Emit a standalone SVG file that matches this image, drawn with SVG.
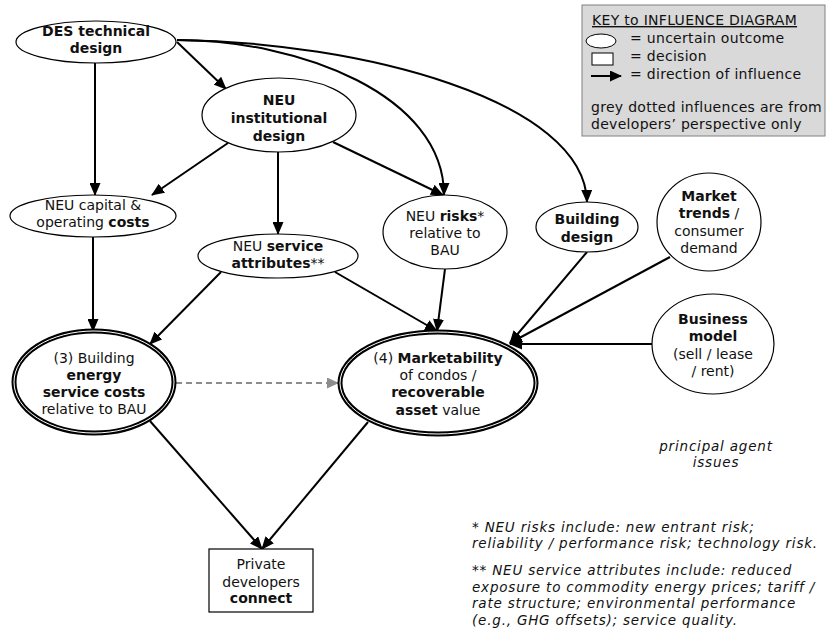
<svg xmlns="http://www.w3.org/2000/svg" width="827" height="631" viewBox="0 0 827 631">
<defs>
<marker id="ah" markerUnits="userSpaceOnUse" markerWidth="13" markerHeight="11" refX="12" refY="5.5" orient="auto"><path d="M0,0 L13,5.5 L0,11 z" fill="#000"/></marker>
<marker id="ahg" markerUnits="userSpaceOnUse" markerWidth="12" markerHeight="11" refX="11" refY="5.5" orient="auto"><path d="M0,0 L12,5.5 L0,11 z" fill="#8c8c8c"/></marker>
<marker id="ahk" markerUnits="userSpaceOnUse" markerWidth="12" markerHeight="11" refX="11" refY="5.5" orient="auto"><path d="M0,0 L12,5.5 L0,11 z" fill="#000"/></marker>
</defs>
<style>
text{font-family:"DejaVu Sans",Verdana,sans-serif;font-size:14px;fill:#111}
.k{font-size:14px;letter-spacing:0.3px}
.f{font-size:13.5px;letter-spacing:0.8px}
.c{text-anchor:middle}
.b{font-weight:bold}
.i{font-style:italic}
.n{fill:#fff;stroke:#000;stroke-width:1.2}
.tk{fill:#fff;stroke:#000;stroke-width:5}
.tw{fill:none;stroke:#fff;stroke-width:1}
.e{fill:none;stroke:#000;stroke-width:2;marker-end:url(#ah)}
.d{fill:none;stroke:#8c8c8c;stroke-width:2.2;stroke-dasharray:6,4;marker-end:url(#ahg)}
</style>
<rect width="827" height="631" fill="#fff"/>

<g id="key">
<rect x="582" y="5" width="243" height="131" fill="#d9d9d9" stroke="#808080" stroke-width="1"/>
<text class="k" x="592" y="25" text-decoration="underline">KEY to INFLUENCE DIAGRAM</text>
<ellipse cx="601" cy="41" rx="15" ry="7" fill="#fff" stroke="#000" stroke-width="1"/>
<text class="k" x="630" y="43">= uncertain outcome</text>
<rect x="592" y="53" width="21" height="12" fill="#fff" stroke="#000" stroke-width="1"/>
<text class="k" x="630" y="61">= decision</text>
<line x1="591" y1="76" x2="621" y2="76" stroke="#000" stroke-width="2" marker-end="url(#ahk)"/>
<text class="k" x="630" y="79">= direction of influence</text>
<text class="k" x="591" y="112">grey dotted influences are from</text>
<text class="k" x="591" y="129">developers’ perspective only</text>
</g>

<g id="connectors">
<line class="e" x1="177" y1="42" x2="226" y2="89"/>
<line class="e" x1="95" y1="63" x2="95" y2="195"/>
<path class="e" d="M177,40 C300,40 444,95 444,195"/>
<path class="e" d="M177,40 C360,42 585,100 587,202"/>
<line class="e" x1="228" y1="143" x2="152" y2="195"/>
<line class="e" x1="278" y1="152" x2="278" y2="234"/>
<line class="e" x1="333" y1="142" x2="443" y2="195"/>
<line class="e" x1="93" y1="237" x2="93" y2="331"/>
<line class="e" x1="221" y1="272" x2="150" y2="344"/>
<line class="e" x1="335" y1="272" x2="437" y2="331"/>
<line class="e" x1="445" y1="269" x2="437" y2="331"/>
<line class="e" x1="587" y1="252" x2="510" y2="343"/>
<line class="e" x1="670" y1="257" x2="510" y2="343"/>
<line class="e" x1="652" y1="344" x2="510" y2="344"/>
<line class="d" x1="176" y1="383" x2="338" y2="383"/>
<line class="e" x1="150" y1="421" x2="262" y2="549"/>
<line class="e" x1="368" y1="422" x2="262" y2="549"/>
</g>

<g id="des">
<ellipse class="n" cx="96" cy="42" rx="80" ry="21"/>
<text class="c b" x="96" y="36">DES technical</text>
<text class="c b" x="96" y="53">design</text>
</g>
<g id="inst">
<ellipse class="n" cx="279" cy="115" rx="77" ry="37"/>
<text class="c b" x="279" y="105">NEU</text>
<text class="c b" x="279" y="123">institutional</text>
<text class="c b" x="279" y="141">design</text>
</g>
<g id="cap">
<ellipse class="n" cx="93" cy="216" rx="83" ry="21"/>
<text class="c" x="93" y="210">NEU capital &amp;</text>
<text class="c" x="93" y="227">operating <tspan class="b">costs</tspan></text>
</g>
<g id="serv">
<ellipse class="n" cx="278" cy="256" rx="80" ry="22"/>
<text class="c" x="278" y="251">NEU <tspan class="b">service</tspan></text>
<text class="c" x="278" y="268"><tspan class="b">attributes</tspan>**</text>
</g>
<g id="risks">
<ellipse class="n" cx="445" cy="232" rx="62" ry="37"/>
<text class="c" x="445" y="221">NEU <tspan class="b">risks</tspan>*</text>
<text class="c" x="445" y="238">relative to</text>
<text class="c" x="445" y="255">BAU</text>
</g>
<g id="bldg">
<ellipse class="n" cx="587" cy="227" rx="51" ry="25"/>
<text class="c b" x="587" y="224">Building</text>
<text class="c b" x="587" y="242">design</text>
</g>
<g id="mkt">
<ellipse class="n" cx="709" cy="222" rx="52" ry="49"/>
<text class="c b" x="709" y="201">Market</text>
<text class="c" x="709" y="218"><tspan class="b">trends</tspan> /</text>
<text class="c" x="709" y="236">consumer</text>
<text class="c" x="709" y="253">demand</text>
</g>
<g id="biz">
<ellipse class="n" cx="713" cy="344" rx="61" ry="50"/>
<text class="c b" x="713" y="324">Business</text>
<text class="c b" x="713" y="341">model</text>
<text class="c" x="713" y="359">(sell / lease</text>
<text class="c" x="713" y="376">/ rent)</text>
</g>
<g id="n3">
<ellipse class="tk" cx="94" cy="382" rx="80" ry="51"/>
<ellipse class="tw" cx="94" cy="382" rx="80" ry="51"/>
<text class="c" x="94" y="363">(3) Building</text>
<text class="c b" x="94" y="380">energy</text>
<text class="c b" x="94" y="397">service costs</text>
<text class="c" x="94" y="414">relative to BAU</text>
</g>
<g id="n4">
<ellipse class="tk" cx="438" cy="383" rx="98" ry="51"/>
<ellipse class="tw" cx="438" cy="383" rx="98" ry="51"/>
<text class="c" x="438" y="363">(4) <tspan class="b">Marketability</tspan></text>
<text class="c" x="438" y="380">of condos /</text>
<text class="c b" x="438" y="397">recoverable</text>
<text class="c" x="438" y="415"><tspan class="b">asset</tspan> value</text>
</g>
<g id="dev">
<rect x="209" y="549" width="104" height="63" fill="#fff" stroke="#000" stroke-width="1.2"/>
<text class="c" x="261" y="569">Private</text>
<text class="c" x="261" y="587">developers</text>
<text class="c b" x="261" y="603">connect</text>
</g>

<g id="notes">
<text class="c i f" x="716" y="451">principal agent</text>
<text class="c i f" x="716" y="467">issues</text>
<text class="i f" x="472" y="532">* NEU risks include: new entrant risk;</text>
<text class="i f" x="472" y="548">reliability / performance risk; technology risk.</text>
<text class="i f" x="472" y="575">** NEU service attributes include: reduced</text>
<text class="i f" x="472" y="592">exposure to commodity energy prices; tariff /</text>
<text class="i f" x="472" y="608">rate structure; environmental performance</text>
<text class="i f" x="472" y="625">(e.g., GHG offsets); service quality.</text>
</g>
</svg>
